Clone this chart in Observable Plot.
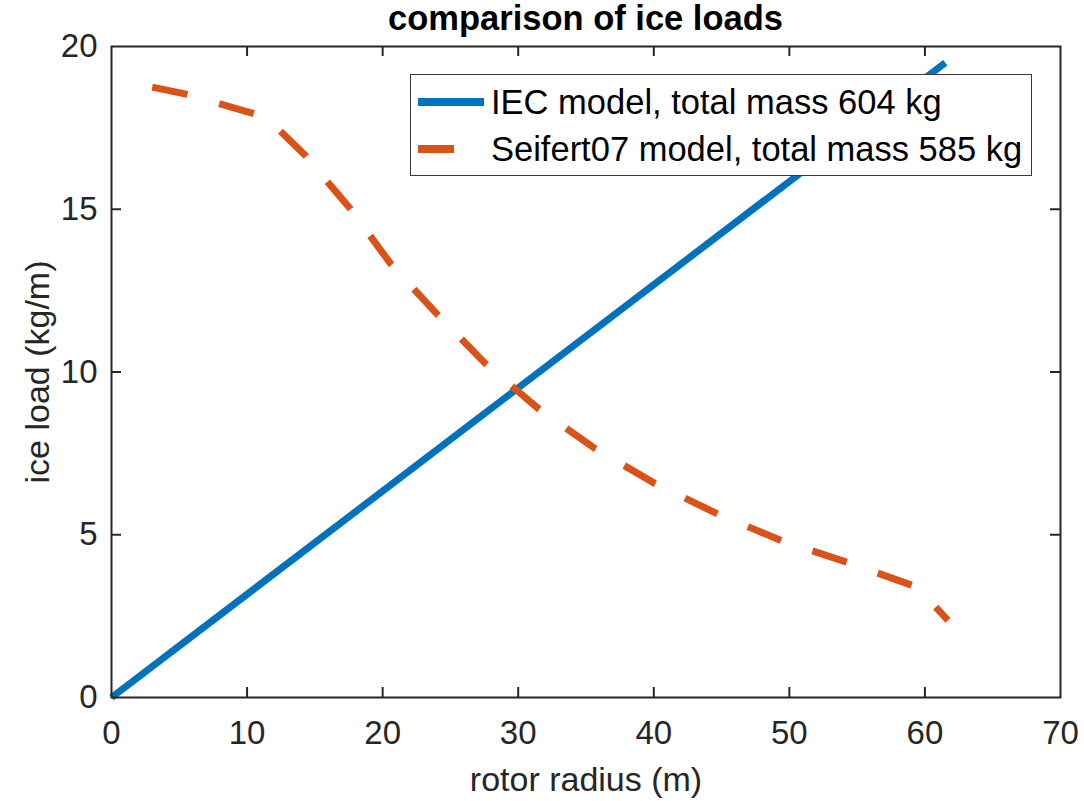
<!DOCTYPE html>
<html>
<head>
<meta charset="utf-8">
<script src="https://cdn.jsdelivr.net/npm/d3@7"></script>
<script src="https://cdn.jsdelivr.net/npm/@observablehq/plot@0.6"></script>
<style>
  html, body { margin: 0; padding: 0; background: #fff; }
  body { font-family: "Liberation Sans", Arial, Helvetica, sans-serif; }
  #wrap { position: relative; width: 1084px; height: 801px; overflow: hidden; }
  #title { box-sizing: border-box; width: 1084px; height: 36px; line-height: 36px; padding-left: 111px; padding-right: 24px; text-align: center; font-weight: bold; font-size: 34.5px; color: #000; white-space: nowrap; }
  #legend { position: absolute; left: 410px; top: 74px; width: 622px; height: 102px; box-sizing: border-box; border: 1.2px solid #3a3a3a; background: #fff; }
  .row { position: absolute; left: 0; height: 40px; width: 100%; }
  .row svg { position: absolute; left: 7px; top: 0; }
  .row span { position: absolute; left: 80px; top: 0; line-height: 40px; font-size: 34.5px; color: #000; white-space: nowrap; }
</style>
</head>
<body>
<div id="wrap">
  <div id="title">comparison of ice loads</div>
  <div id="chart"></div>
  <div id="legend"></div>
</div>
<script>
// ---- data ----
const iecRadius = [0, 61.5];
const iecLoad = [0, 19.5];
const seifertRadius = [3.0, 5.6, 7.9, 10.5, 11.4, 14.3, 17.6, 20.6, 24.1, 27.6, 31.5, 35.7, 40.1, 44.7, 49.4, 54.3, 59.1, 59.5, 61.7];
const seifertLoad = [18.75, 18.53, 18.25, 17.94, 17.83, 16.65, 15.02, 13.32, 11.74, 10.25, 8.87, 7.64, 6.57, 5.64, 4.82, 4.15, 3.44, 3.35, 2.37];
const xTicks = [0, 10, 20, 30, 40, 50, 60, 70];
const yTicks = [0, 5, 10, 15, 20];
const seriesNames = ["IEC model, total mass 604 kg", "Seifert07 model, total mass 585 kg"];
const seriesColors = ["#0072BD", "#D95319"];
const titleText = "comparison of ice loads";
const xLabel = "rotor radius (m)";
const yLabel = "ice load (kg/m)";

const iec = iecRadius.map((r, i) => ({r, load: iecLoad[i]}));
const seifert = seifertRadius.map((r, i) => ({r, load: seifertLoad[i]}));

const W = 1084, H = 765;
const mL = 111, mR = 24, mT = 10, mB = 104;
const innerW = W - mL - mR, innerH = H - mT - mB;
const tickLen = 10;
const axisColor = "#262626";
const dash = "36,33";

const innerXTicks = xTicks.slice(1, -1);
const innerYTicks = yTicks.slice(1, -1);

const chart = Plot.plot({
  width: W,
  height: H,
  marginLeft: mL,
  marginRight: mR,
  marginTop: mT,
  marginBottom: mB,
  style: {fontFamily: '"Liberation Sans", Arial, Helvetica, sans-serif', background: "#fff", overflow: "visible"},
  x: {domain: [0, 70], ticks: xTicks},
  y: {domain: [0, 20], ticks: yTicks},
  marks: [
    Plot.axisX({ticks: xTicks, tickSize: 0, tickPadding: 23, fontSize: 33, fill: axisColor, label: null}),
    Plot.axisY({ticks: yTicks, tickSize: 0, tickPadding: 14, fontSize: 33, fill: axisColor, label: null}),
    Plot.line(iec, {x: "r", y: "load", stroke: seriesColors[0], strokeWidth: 7, strokeLinecap: "butt", strokeLinejoin: "miter"}),
    Plot.line(seifert, {x: "r", y: "load", stroke: seriesColors[1], strokeWidth: 7, strokeLinecap: "butt", strokeLinejoin: "round", strokeDasharray: dash}),
    // inward ticks on all four sides
    Plot.tickX(innerXTicks, {x: d => d, stroke: axisColor, strokeWidth: 2, insetTop: innerH - tickLen}),
    Plot.tickX(innerXTicks, {x: d => d, stroke: axisColor, strokeWidth: 2, insetBottom: innerH - tickLen}),
    Plot.tickY(innerYTicks, {y: d => d, stroke: axisColor, strokeWidth: 2, insetRight: innerW - tickLen}),
    Plot.tickY(innerYTicks, {y: d => d, stroke: axisColor, strokeWidth: 2, insetLeft: innerW - tickLen}),
    Plot.frame({stroke: axisColor, strokeWidth: 2}),
    Plot.text([xLabel], {frameAnchor: "bottom", lineAnchor: "middle", textAnchor: "middle", dy: 83, fontSize: 34, fill: axisColor, text: d => d}),
    Plot.text([yLabel], {frameAnchor: "left", lineAnchor: "middle", textAnchor: "middle", dx: -73, rotate: -90, fontSize: 34, fill: axisColor, text: d => d})
  ]
});
document.getElementById("chart").appendChild(chart);
document.getElementById("title").textContent = titleText;

// ---- legend ----
const legend = document.getElementById("legend");
const rowTops = [7, 54];
seriesNames.forEach((name, i) => {
  const row = document.createElement("div");
  row.className = "row";
  row.style.top = rowTops[i] + "px";
  const svg = d3.create("svg").attr("width", 66).attr("height", 40);
  svg.append("line")
    .attr("x1", 0).attr("x2", 66).attr("y1", 20).attr("y2", 20)
    .attr("stroke", seriesColors[i]).attr("stroke-width", 8)
    .attr("stroke-dasharray", i === 1 ? dash : null);
  row.appendChild(svg.node());
  const span = document.createElement("span");
  span.textContent = name;
  row.appendChild(span);
  legend.appendChild(row);
});
</script>
</body>
</html>
